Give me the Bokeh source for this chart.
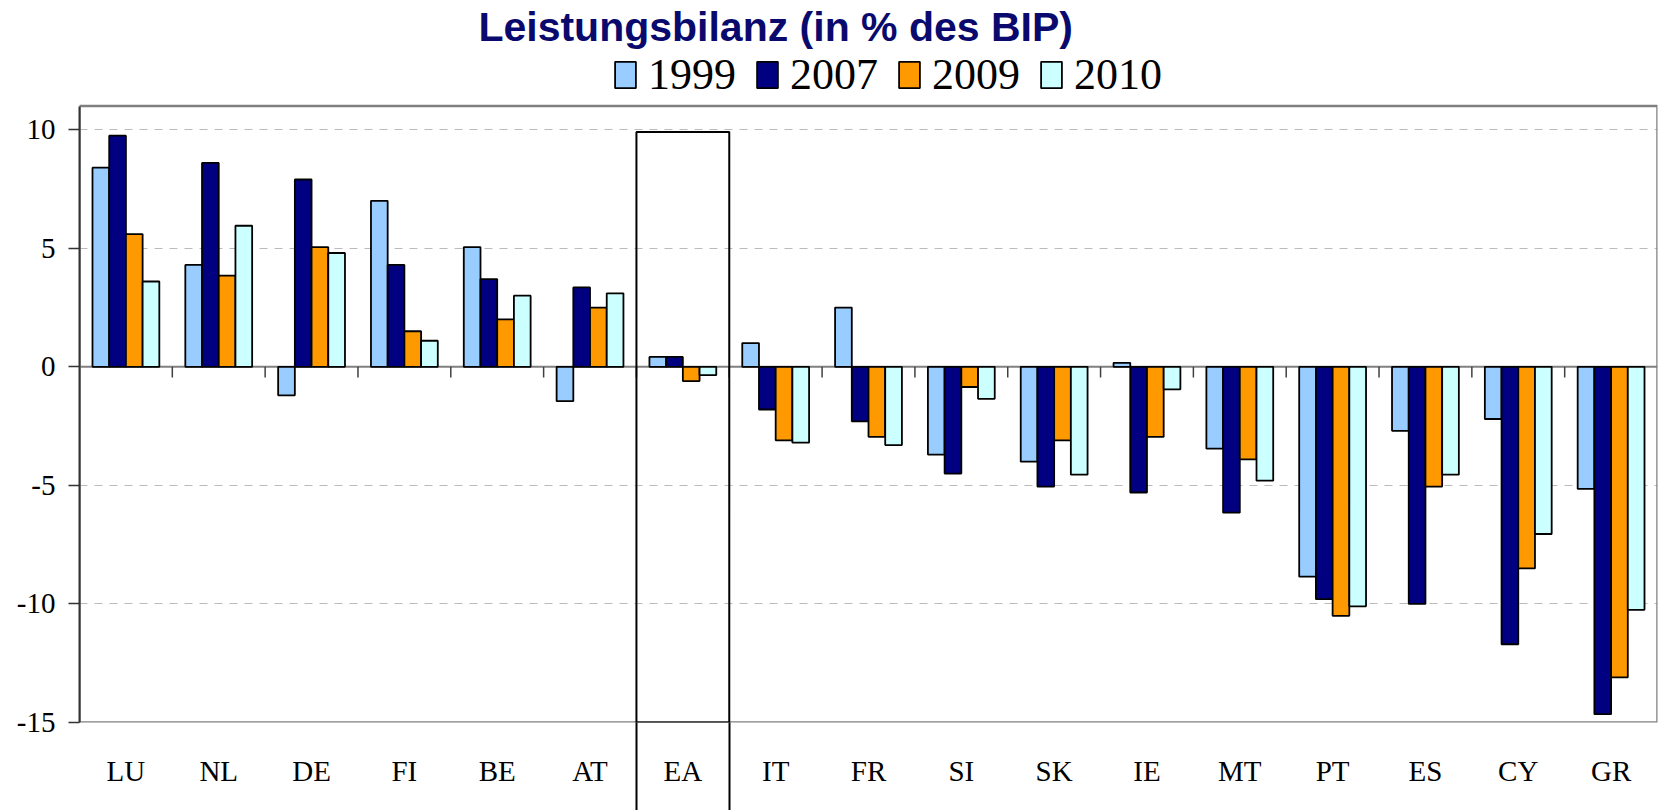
from bokeh.plotting import figure
from bokeh.models import (Range1d, Legend, LegendItem, Label, Span, FixedTicker, ColumnDataSource)
from bokeh.embed import file_html
from bokeh.resources import INLINE

countries = ["LU", "NL", "DE", "FI", "BE", "AT", "EA", "IT", "FR", "SI", "SK", "IE", "MT", "PT", "ES", "CY", "GR"]
years = ["1999", "2007", "2009", "2010"]
v1999 = [8.4, 4.3, -1.2, 7.0, 5.05, -1.45, 0.42, 1.0, 2.5, -3.7, -4.0, 0.17, -3.45, -8.85, -2.7, -2.2, -5.15]
v2007 = [9.75, 8.6, 7.9, 4.3, 3.7, 3.35, 0.42, -1.8, -2.3, -4.5, -5.05, -5.3, -6.15, -9.8, -10.0, -11.7, -14.65]
v2009 = [5.6, 3.85, 5.05, 1.5, 2.0, 2.5, -0.6, -3.1, -2.95, -0.85, -3.1, -2.95, -3.9, -10.5, -5.05, -8.5, -13.1]
v2010 = [3.6, 5.95, 4.8, 1.1, 3.0, 3.1, -0.35, -3.2, -3.3, -1.35, -4.55, -0.95, -4.8, -10.1, -4.55, -7.05, -10.25]
colors = ["#99CCFF", "#000080", "#FF9900", "#CCFFFF"]
y_ticks = [-15, -10, -5, 0, 5, 10]
y_tick_labels = ["-15", "-10", "-5", "0", "5", "10"]
y_min, y_max = -15, 11
highlight = "EA"
highlight_top = 9.9
title_text = "Leistungsbilanz (in % des BIP)"

n = len(countries)
centers = [i + 0.5 for i in range(n)]
series = [v1999, v2007, v2009, v2010]
offsets = [-0.27, -0.09, 0.09, 0.27]
bar_w = 0.18

SERIF = "Liberation Serif"

# the plotting frame reaches up to the top of the canvas; the visible chart box is y_min..y_max
p = figure(width=1659, height=810, x_range=Range1d(0, n), y_range=Range1d(y_min, 15.45),
           output_backend="svg", toolbar_location=None, title_location=None,
           min_border_left=79, min_border_right=2, min_border_bottom=88, min_border_top=0)
p.background_fill_color = "white"
p.border_fill_color = "white"
p.outline_line_color = None

# gridlines / zero line
p.xgrid.grid_line_color = None
p.ygrid.ticker = FixedTicker(ticks=[t for t in y_ticks if t not in (0, y_min)])
p.ygrid.grid_line_color = "#BBBBBB"
p.ygrid.grid_line_dash = "8 7"
p.ygrid.grid_line_width = 1
p.add_layout(Span(location=0, dimension="width", line_color="#808080", line_width=2, level="underlay"))

# visible chart box
p.quad(left=[0], right=[n], bottom=[y_min], top=[y_max], fill_color=None,
       line_color="#808080", line_width=2.5)

renderers = []
for vals, off, c in zip(series, offsets, colors):
    src = ColumnDataSource(dict(x=[cx + off for cx in centers], top=vals))
    r = p.vbar(x="x", top="top", width=bar_w, source=src,
               fill_color=c, line_color="black", line_width=1.8)
    renderers.append(r)

# boundary tick marks on the zero line
bounds = list(range(1, n))
p.segment(x0=bounds, x1=bounds, y0=[0] * len(bounds), y1=[-0.45] * len(bounds),
          line_color="#404040", line_width=1.5)

# highlight box for EA (part inside the chart box)
idx = countries.index(highlight)
p.quad(left=[idx], right=[idx + 1], top=[highlight_top], bottom=[y_min],
       fill_color=None, line_color="black", line_width=2)

# y axis
yax = p.yaxis[0]
yax.bounds = (y_min, y_max)
yax.ticker = FixedTicker(ticks=y_ticks)
yax.major_label_overrides = {t: s for t, s in zip(y_ticks, y_tick_labels)}
yax.major_tick_out = 11
yax.major_tick_in = 0
yax.minor_tick_line_color = None
yax.axis_line_color = "#333333"
yax.axis_line_width = 2
yax.major_tick_line_color = "#333333"
yax.major_tick_line_width = 1.5
yax.major_label_text_font = "Times New Roman"
yax.major_label_text_font_style = "normal"
yax.major_label_text_font_size = "29px"
yax.major_label_text_color = "black"
yax.major_label_standoff = 13

# x axis: labels at category centres, long minor ticks continue the EA box below the chart
xax = p.xaxis[0]
xax.ticker = FixedTicker(ticks=centers, minor_ticks=[idx, idx + 1])
xax.major_label_overrides = {cx: c for cx, c in zip(centers, countries)}
xax.major_tick_line_color = None
xax.major_tick_out = 0
xax.major_tick_in = 0
xax.minor_tick_line_color = "black"
xax.minor_tick_line_width = 2
xax.minor_tick_out = 88
xax.minor_tick_in = 0
xax.axis_line_color = None
xax.major_label_text_font = SERIF
xax.major_label_text_font_size = "29px"
xax.major_label_text_color = "black"
xax.major_label_standoff = -56

legend = Legend(items=[LegendItem(label=y, renderers=[r]) for y, r in zip(years, renderers)],
                orientation="horizontal", location=(533, 622),
                label_text_font=SERIF, label_text_font_size="44px", label_text_color="black",
                glyph_width=26, glyph_height=33, label_standoff=10, spacing=18,
                padding=0, margin=0, border_line_color=None, background_fill_alpha=0)
p.add_layout(legend, "center")

p.add_layout(Label(x=n / 2 - 1, y=14.35, text=title_text, text_align="center",
                   text_baseline="middle", text_font="Liberation Sans", text_font_style="bold",
                   text_font_size="41px", text_color="#0A0A6E"))

open("out.html", "w").write(file_html(p, INLINE))
